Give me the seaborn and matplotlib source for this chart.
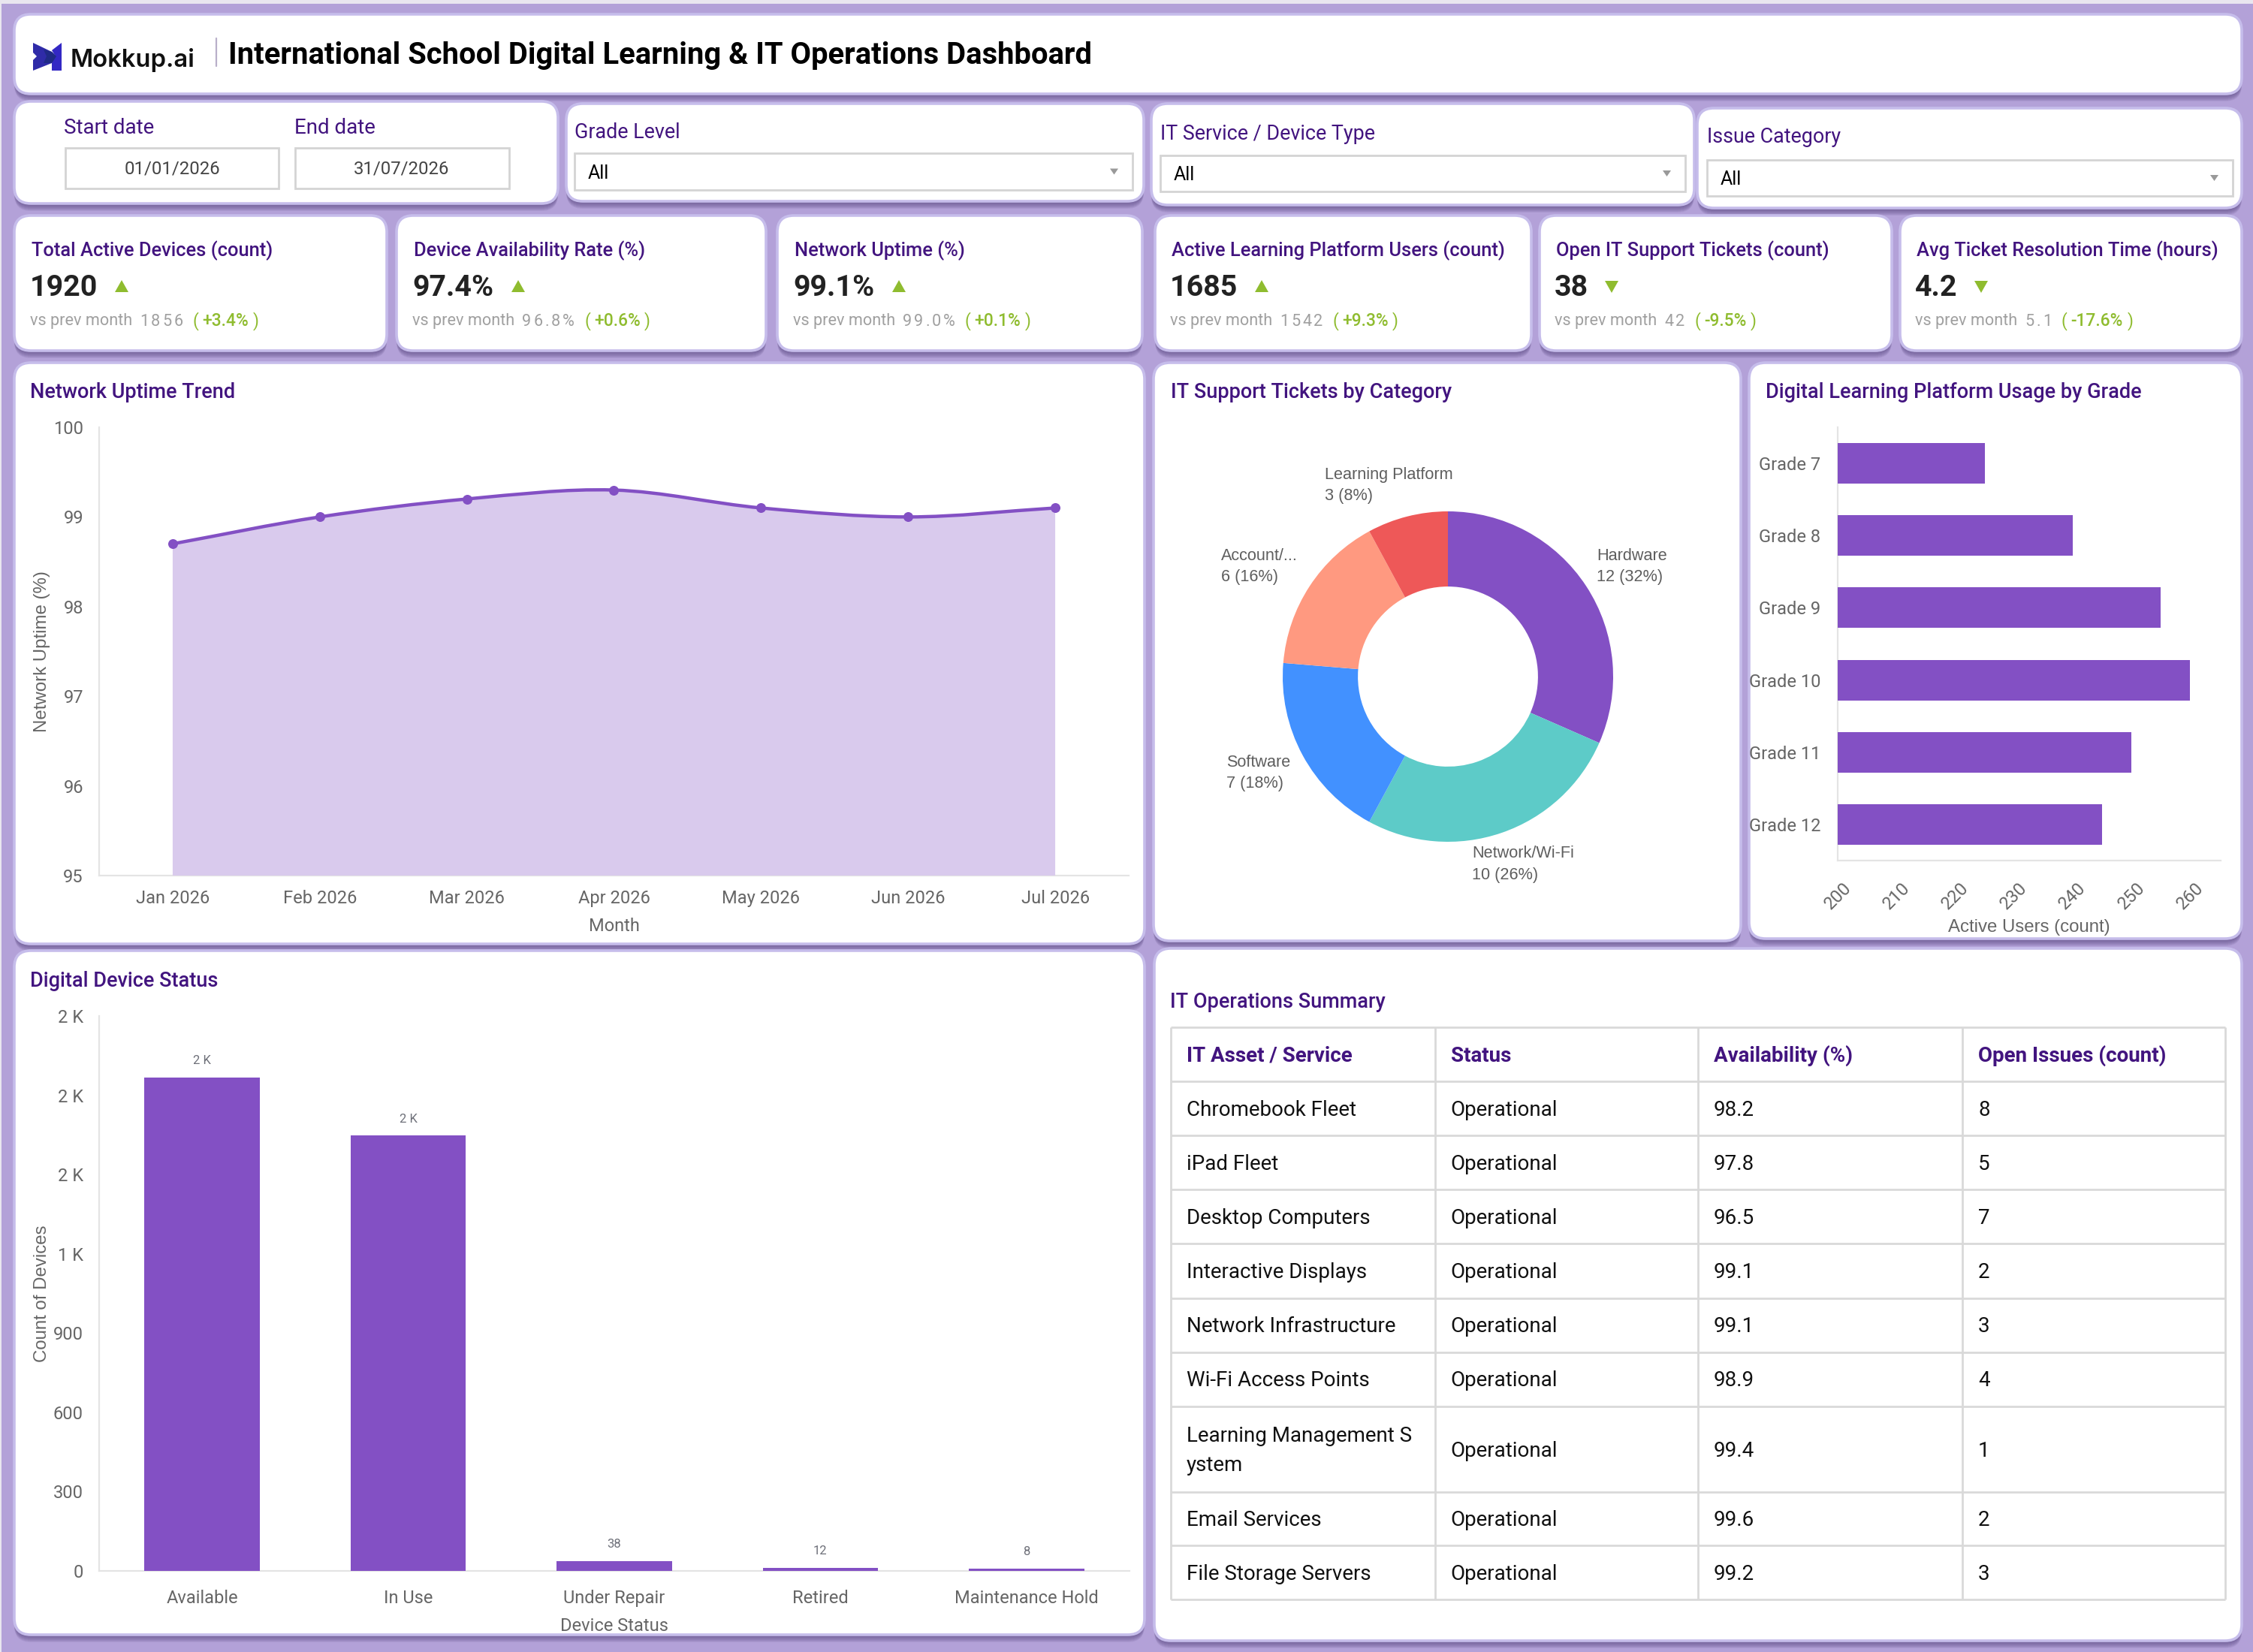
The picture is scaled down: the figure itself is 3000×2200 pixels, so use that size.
import numpy as np
import pandas as pd
import matplotlib.pyplot as plt
import seaborn as sns
from matplotlib.patches import FancyBboxPatch, Polygon, PathPatch, Rectangle
from matplotlib.path import Path

# data
months = ['Jan 2026', 'Feb 2026', 'Mar 2026', 'Apr 2026', 'May 2026', 'Jun 2026', 'Jul 2026']
uptime = [98.7, 99.0, 99.2, 99.3, 99.1, 99.0, 99.1]

ticket_cats = ['Hardware', 'Network/Wi-Fi', 'Software', 'Account/...', 'Learning Platform']
ticket_counts = [12, 10, 7, 6, 3]
ticket_pcts = [32, 26, 18, 16, 8]

grades = ['Grade 7', 'Grade 8', 'Grade 9', 'Grade 10', 'Grade 11', 'Grade 12']
grade_users = [225, 240, 255, 260, 250, 245]

device_status = ['Available', 'In Use', 'Under Repair', 'Retired', 'Maintenance Hold']
device_counts = [1867, 1647, 38, 12, 8]
device_labels = ['2 K', '2 K', '38', '12', '8']
device_ticks = [0, 300, 600, 900, 1200, 1500, 1800, 2100]
device_ticklabels = ['0', '300', '600', '900', '1 K', '2 K', '2 K', '2 K']

kpi_titles = ['Total Active Devices (count)', 'Device Availability Rate (%)', 'Network Uptime (%)',
              'Active Learning Platform Users (count)', 'Open IT Support Tickets (count)',
              'Avg Ticket Resolution Time (hours)']
kpi_values = ['1920', '97.4%', '99.1%', '1685', '38', '4.2']
kpi_prev = ['1856', '96.8%', '99.0%', '1542', '42', '5.1']
kpi_delta = ['+3.4%', '+0.6%', '+0.1%', '+9.3%', '-9.5%', '-17.6%']
kpi_up = [True, True, True, True, False, False]

table_head = ['IT Asset / Service', 'Status', 'Availability (%)', 'Open Issues (count)']
table_asset = ['Chromebook Fleet', 'iPad Fleet', 'Desktop Computers', 'Interactive Displays',
               'Network Infrastructure', 'Wi-Fi Access Points', 'Learning Management S\nystem',
               'Email Services', 'File Storage Servers']
table_status = ['Operational'] * 9
table_avail = [98.2, 97.8, 96.5, 99.1, 99.1, 98.9, 99.4, 99.6, 99.2]
table_issues = [8, 5, 7, 2, 3, 4, 1, 2, 3]

# colours
BG = '#B3A1D8'
PURPLE = '#8350C4'
AREA = '#D9CAED'
TITLE = '#42147F'
GREY = '#666666'
GREEN = '#8FBC2F'
AXIS = '#E4E4E4'
DONUT = ['#8350C4', '#5DCBC8', '#4291FF', '#FF9980', '#EE5858']

sns.set_theme(style='white')
plt.rcParams['font.family'] = ['Roboto', 'DejaVu Sans']

W, H = 3000, 2200
fig = plt.figure(figsize=(15, 11), dpi=200, facecolor=BG)

# whole picture axes in pixels, for cards and text
bg = fig.add_axes([0, 0, 1, 1], zorder=0)
bg.set_xlim(0, W)
bg.set_ylim(H, 0)
bg.axis('off')


def px_axes(l, t, r, b):
    ax = fig.add_axes([l / W, 1 - b / H, (r - l) / W, (b - t) / H], zorder=2)
    ax.patch.set_alpha(0)
    return ax


def card(l, t, r, b):
    # shadow first, then the white card
    for i in range(1, 11):
        bg.add_patch(FancyBboxPatch((l, t + i), r - l, b - t, boxstyle='round,pad=0,rounding_size=22',
                                    fc='#5E4C86', ec='none', alpha=0.11))
    bg.add_patch(FancyBboxPatch((l, t), r - l, b - t, boxstyle='round,pad=0,rounding_size=22',
                                fc='white', ec='#C6BDEB', lw=1.3))


def txt(x, y, s, size=8.5, color='black', weight='normal', ha='left', family=None, **kw):
    # +3 because the centre of the text box sits a bit above the middle of the letters
    return bg.text(x, y + 3, s, fontsize=size, color=color, fontweight=weight, ha=ha, va='center',
                   family=family or ['Roboto', 'DejaVu Sans'], **kw)


def input_box(l, t, r, b):
    bg.add_patch(Rectangle((l, t), r - l, b - t, fc='white', ec='#D4D4D4', lw=1.0))


# strip of lighter colour along the top edge
bg.add_patch(Rectangle((0, 0), W, 5, fc='#E9E6EF', ec='none'))
bg.add_patch(Rectangle((0, 0), 2, H, fc='#E9E6EF', ec='none'))

# header
card(19, 19, 2985, 125)
bg.add_patch(Polygon([(44, 57), (69, 69), (74, 74), (74, 80), (69, 84), (44, 94), (44, 80), (49, 75), (44, 70)],
                     fc='#2F2BA8', ec='none'))
bg.add_patch(Polygon([(82, 57), (82, 94), (69, 94), (69, 84), (74, 75), (69, 67)], fc='#3328C4', ec='none'))
bg.add_patch(Polygon([(58, 66), (69, 69), (75, 75), (69, 84), (58, 84), (62, 75)], fc='#1F2A86', ec='none'))
txt(94, 77, 'Mokkup.ai', size=11.8, color='#111111', weight='semibold', family=['Inter', 'DejaVu Sans'])
bg.plot([288, 288], [51, 88], color='#B9AFC9', lw=0.8)
txt(304, 71, 'International School Digital Learning & IT Operations Dashboard', size=14.4, weight='bold')

# date and filter cards
card(19, 135, 743, 271)
txt(85, 167, 'Start date', size=10, color=TITLE)
txt(392, 167, 'End date', size=10, color=TITLE)
input_box(87, 197, 371, 251)
input_box(393, 197, 678, 251)
txt(229, 222, '01/01/2026', size=8.6, color='#444444', ha='center')
txt(535, 222, '31/07/2026', size=8.6, color='#444444', ha='center')

filter_cards = [(754, 138, 1523, 268), (1533, 138, 2256, 273), (2260, 144, 2985, 277)]
filter_names = ['Grade Level', 'IT Service / Device Type', 'Issue Category']
filter_boxes = [(765, 204, 1508, 253), (1545, 207, 2244, 255), (2273, 213, 2973, 261)]
filter_label_y = [173, 175, 180]
for c, n, b, ly in zip(filter_cards, filter_names, filter_boxes, filter_label_y):
    card(*c)
    txt(b[0], ly, n, size=9.7, color=TITLE)
    input_box(*b)
    my = (b[1] + b[3]) / 2
    txt(b[0] + 18, my - 1, 'All', size=9)
    bg.add_patch(Polygon([(b[2] - 30, my - 4), (b[2] - 19, my - 4), (b[2] - 24.5, my + 4)], fc='#999999', ec='none'))

# kpi cards
kpi_cards = [(19, 515), (528, 1020), (1035, 1521), (1538, 2039), (2050, 2519), (2530, 2985)]
kpi_text_x = [42, 551, 1058, 1560, 2072, 2552]
kpi_arrow_x = [153, 681, 1188, 1671, 2137, 2629]
rend = fig.canvas.get_renderer()


def right_edge(t):
    return bg.transData.inverted().transform(t.get_window_extent(rend))[1][0]


for i in range(6):
    card(kpi_cards[i][0], 287, kpi_cards[i][1], 467)
    x = kpi_text_x[i]
    txt(x, 331, kpi_titles[i], size=9.2, color=TITLE, weight='medium')
    txt(x - 2, 380, kpi_values[i], size=14.2, color='#222222', weight='bold')
    ax0 = kpi_arrow_x[i]
    if kpi_up[i]:
        pts = [(ax0, 389), (ax0 + 18, 389), (ax0 + 9, 373)]
    else:
        pts = [(ax0, 374), (ax0 + 18, 374), (ax0 + 9, 390)]
    bg.add_patch(Polygon(pts, fc=GREEN, ec='none'))
    # the small line, one piece after the other, the previous value is spaced out
    cx = x - 2
    t = txt(cx, 425, 'vs prev month', size=7.8, color='#A0A0A0')
    cx = right_edge(t) + 10
    for ch in kpi_prev[i]:
        t = txt(cx, 425, ch, size=7.8, color='#A0A0A0')
        cx = right_edge(t) + 3
    cx += 10
    t = txt(cx, 425, '(', size=8.2, color=GREEN)
    cx = right_edge(t) + 5
    t = txt(cx, 425, kpi_delta[i], size=8.2, color=GREEN, weight='medium')
    cx = right_edge(t) + 5
    txt(cx, 425, ')', size=8.2, color=GREEN)

# chart cards
card(19, 483, 1524, 1257)
card(1536, 483, 2318, 1253)
card(2329, 483, 2985, 1250)
card(19, 1266, 1524, 2177)
card(1537, 1263, 2985, 2185)

txt(40, 519, 'Network Uptime Trend', size=9.75, color=TITLE, weight='medium')
txt(1559, 519, 'IT Support Tickets by Category', size=9.75, color=TITLE, weight='medium')
txt(2351, 519, 'Digital Learning Platform Usage by Grade', size=9.75, color=TITLE, weight='medium')
txt(40, 1303, 'Digital Device Status', size=9.75, color=TITLE, weight='medium')
txt(1558, 1331, 'IT Operations Summary', size=9.75, color=TITLE, weight='medium')


def clean_axes(ax):
    sns.despine(ax=ax)
    for side in ['left', 'bottom']:
        ax.spines[side].set_color(AXIS)
        ax.spines[side].set_linewidth(0.8)
        ax.spines[side].set_zorder(0.5)
    ax.tick_params(length=0, labelsize=8.5, labelcolor=GREY)


# network uptime trend
ax1 = px_axes(132, 569, 1503, 1166)
df_up = pd.DataFrame({'month': months, 'uptime': uptime})
sns.scatterplot(data=df_up, x='month', y='uptime', color=PURPLE, s=22, linewidth=0, zorder=4, ax=ax1)
ax1.set_xlim(-0.5, 6.5)
ax1.set_ylim(95, 100)
# smooth line through the points as bezier pieces
xs = np.arange(len(uptime), dtype=float)
ys = np.array(uptime)
slope = np.gradient(ys, xs)
verts = [(xs[0], ys[0])]
codes = [Path.MOVETO]
for i in range(len(xs) - 1):
    verts += [(xs[i] + 1 / 3, ys[i] + slope[i] / 3), (xs[i + 1] - 1 / 3, ys[i + 1] - slope[i + 1] / 3),
              (xs[i + 1], ys[i + 1])]
    codes += [Path.CURVE4] * 3
ax1.add_patch(PathPatch(Path(verts + [(xs[-1], 95), (xs[0], 95), (xs[0], ys[0])],
                             codes + [Path.LINETO, Path.LINETO, Path.CLOSEPOLY]),
                        fc=AREA, ec='none', zorder=1))
ax1.add_patch(PathPatch(Path(verts, codes), fc='none', ec=PURPLE, lw=1.6, zorder=3))
clean_axes(ax1)
ax1.set_yticks([95, 96, 97, 98, 99, 100])
ax1.tick_params(axis='x', pad=7)
ax1.tick_params(axis='y', pad=7.6)
ax1.set_xlabel('Month', fontsize=8.5, color=GREY, labelpad=5)
ax1.set_ylabel('Network Uptime (%)', fontsize=8.65, color=GREY, family=['Liberation Sans'])
ax1.yaxis.set_label_coords((67 - 132) / 1371, 0.5)

# donut
ax2 = px_axes(1928 - 352, 901 - 352, 1928 + 352, 901 + 352)
wedges, _ = ax2.pie(ticket_counts, colors=DONUT, startangle=90, counterclock=False,
                    wedgeprops={'width': 0.455, 'linewidth': 0})
ax2.set_xlim(-1.6, 1.6)
ax2.set_ylim(-1.6, 1.6)
label_off = [(61, 26), (29, -42), (-59, -24), (-67, 26), (-25, 41)]
for w, c, n, p, off in zip(wedges, ticket_cats, ticket_counts, ticket_pcts, label_off):
    a = np.deg2rad((w.theta1 + w.theta2) / 2)
    ax2.annotate(f'{c}\n{n} ({p}%)', (np.cos(a), np.sin(a)), xytext=off, textcoords='offset pixels',
                 ha='center', va='center', ma='left', fontsize=7.8, color='#5E5E5E',
                 family=['Liberation Sans'], linespacing=1.45)

# platform usage by grade
ax3 = px_axes(2447, 569, 2957, 1146)
df_grade = pd.DataFrame({'grade': grades, 'users': grade_users})
sns.barplot(data=df_grade, y='grade', x='users', color=PURPLE, saturation=1, width=0.56, linewidth=0, ax=ax3)
ax3.set_xlim(200, 265.2)
clean_axes(ax3)
ax3.set_xticks(range(200, 261, 10))
ax3.tick_params(axis='x', rotation=45, pad=9)
ax3.tick_params(axis='y', pad=8.2)
ax3.set_ylabel('')
ax3.set_xlabel('Active Users (count)', fontsize=8.65, color=GREY, family=['Liberation Sans'], labelpad=3)

# device status
ax4 = px_axes(132, 1353, 1504, 2092)
df_dev = pd.DataFrame({'status': device_status, 'count': device_counts})
sns.barplot(data=df_dev, x='status', y='count', color=PURPLE, saturation=1, width=0.56, linewidth=0, ax=ax4)
ax4.set_ylim(0, 2100)
clean_axes(ax4)
ax4.set_yticks(device_ticks)
ax4.set_yticklabels(device_ticklabels)
ax4.tick_params(axis='x', pad=9)
ax4.tick_params(axis='y', pad=7.6)
for i, (v, lab) in enumerate(zip(device_counts, device_labels)):
    ax4.annotate(lab, (i, v), xytext=(0, 8), textcoords='offset points', ha='center', va='center',
                 fontsize=6, color='#6E7079')
ax4.set_xlabel('Device Status', fontsize=8.5, color=GREY, labelpad=5)
ax4.set_ylabel('Count of Devices', fontsize=8.65, color=GREY, family=['Liberation Sans'])
ax4.yaxis.set_label_coords((67 - 132) / 1372, 0.5)

# table
col_x = [1559, 1911, 2261, 2613, 2963]
row_y = [1368, 1440, 1512, 1584, 1656, 1729, 1801, 1873, 1987, 2058, 2130]
for x in col_x:
    bg.plot([x, x], [row_y[0], row_y[-1]], color='#D9D9D9', lw=1.0, solid_capstyle='butt')
for y in row_y:
    bg.plot([col_x[0], col_x[-1]], [y, y], color='#D9D9D9', lw=1.0, solid_capstyle='butt')
for j, h in enumerate(table_head):
    txt(col_x[j] + 21, (row_y[0] + row_y[1]) / 2 - 1, h, size=10, color=TITLE, weight='bold')
for i in range(9):
    my = (row_y[i + 1] + row_y[i + 2]) / 2 - 1
    txt(col_x[0] + 21, my, table_asset[i], size=10, color='#111111', linespacing=1.56)
    txt(col_x[1] + 20, my, table_status[i], size=10, color='#111111')
    txt(col_x[2] + 21, my, str(table_avail[i]), size=10, color='#111111')
    txt(col_x[3] + 21, my, str(table_issues[i]), size=10, color='#111111')

fig.savefig('out.png', dpi=200, facecolor=BG)
